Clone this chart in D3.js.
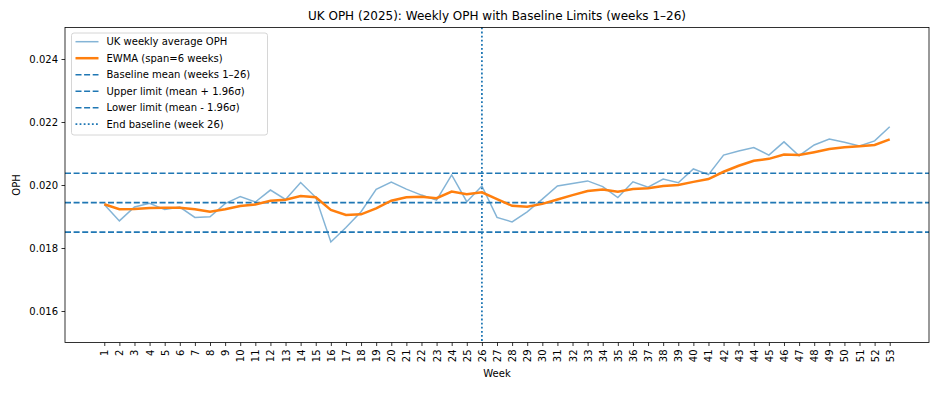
<!DOCTYPE html>
<html>
<head>
<meta charset="utf-8">
<script src="https://cdn.jsdelivr.net/npm/d3@7"></script>
<style>
  body { margin: 0; background: #fff; }
  svg { font-family: "DejaVu Sans", sans-serif; }
</style>
</head>
<body>
<div id="chart"></div>
<script>
// weekly values
var weeks = d3.range(1, 54);
var weeklyOph = [
  0.01938, 0.01886, 0.01930, 0.01942, 0.01922, 0.01930, 0.01897, 0.01899, 0.01941, 0.01963,
  0.01946, 0.01984, 0.01954, 0.02008, 0.01961, 0.01819, 0.01865, 0.01915, 0.01986, 0.02009,
  0.01987, 0.01968, 0.01952, 0.02032, 0.01947, 0.01997, 0.01897, 0.01883, 0.01915, 0.01955,
  0.01997, 0.02005, 0.02013, 0.01995, 0.01960, 0.02010, 0.01993, 0.02019, 0.02007, 0.02051,
  0.02033, 0.02095, 0.02108, 0.02119, 0.02095, 0.02137, 0.02093, 0.02127, 0.02146, 0.02136,
  0.02124, 0.02140, 0.02185
];
var ewmaOph = [
  0.01939, 0.01923, 0.01924, 0.01927, 0.01928, 0.01928, 0.01923, 0.01915, 0.01923, 0.01933,
  0.01938, 0.01950, 0.01953, 0.01965, 0.01961, 0.01921, 0.01905, 0.01907, 0.01926, 0.01950,
  0.01961, 0.01963, 0.01958, 0.01979, 0.01971, 0.01977, 0.01955, 0.01934, 0.01931, 0.01940,
  0.01954, 0.01968, 0.01981, 0.01986, 0.01979, 0.01987, 0.01990, 0.01997, 0.02000, 0.02010,
  0.02019, 0.02042, 0.02061, 0.02077, 0.02083, 0.02097, 0.02095, 0.02104, 0.02114, 0.02120,
  0.02123, 0.02127, 0.02145
];
var baselineMean = 0.01944,
    upperLimit = 0.020375,
    lowerLimit = 0.018505,
    baselineEnd = 26;
var yTicks = [0.016, 0.018, 0.020, 0.022, 0.024];
var legendLabels = [
  "UK weekly average OPH",
  "EWMA (span=6 weeks)",
  "Baseline mean (weeks 1\u201326)",
  "Upper limit (mean + 1.96\u03c3)",
  "Lower limit (mean - 1.96\u03c3)",
  "End baseline (week 26)"
];

var width = 941,
    height = 393,
    margin = {top: 27.5, right: 12, bottom: 50.5, left: 65};

var blue = "#1f77b4", orange = "#ff7f0e";

var svg = d3.select("#chart").append("svg")
    .attr("width", width)
    .attr("height", height);

var x = d3.scaleLinear()
    .domain([1 - 2.6, 53 + 2.6])
    .range([margin.left, width - margin.right]);

var y = d3.scaleLinear()
    .domain([0.015, 0.025])
    .range([height - margin.bottom, margin.top]);

var plot = svg.append("g");

// limit lines
var dashed = "6,2.6", dotted = "1.8,2.3";
[upperLimit, baselineMean, lowerLimit].forEach(function(v) {
  plot.append("line")
      .attr("x1", margin.left).attr("x2", width - margin.right)
      .attr("y1", y(v)).attr("y2", y(v))
      .attr("stroke", blue)
      .attr("stroke-width", 1.6)
      .attr("stroke-dasharray", dashed);
});

plot.append("line")
    .attr("x1", x(baselineEnd)).attr("x2", x(baselineEnd))
    .attr("y1", margin.top).attr("y2", height - margin.bottom)
    .attr("stroke", blue)
    .attr("stroke-width", 1.8)
    .attr("stroke-dasharray", dotted);

var line = d3.line()
    .x(function(d, i) { return x(weeks[i]); })
    .y(function(d) { return y(d); });

plot.append("path")
    .datum(weeklyOph)
    .attr("fill", "none")
    .attr("stroke", blue)
    .attr("stroke-opacity", 0.55)
    .attr("stroke-width", 1.5)
    .attr("d", line);

plot.append("path")
    .datum(ewmaOph)
    .attr("fill", "none")
    .attr("stroke", orange)
    .attr("stroke-width", 2.5)
    .attr("d", line);

// axes
var xAxis = svg.append("g")
    .attr("transform", "translate(0," + (height - margin.bottom) + ")")
    .call(d3.axisBottom(x).tickValues(weeks).tickSize(3.5).tickPadding(3.5).tickFormat(d3.format("d")));
xAxis.select(".domain").remove();
xAxis.selectAll("text")
    .attr("transform", "rotate(-90)")
    .attr("text-anchor", "end")
    .attr("x", -7)
    .attr("y", 0)
    .attr("dy", "0.35em");

var yAxis = svg.append("g")
    .attr("transform", "translate(" + margin.left + ",0)")
    .call(d3.axisLeft(y).tickValues(yTicks).tickSize(3.5).tickPadding(3.5).tickFormat(d3.format(".3f")));
yAxis.select(".domain").remove();

svg.selectAll(".tick text").attr("font-size", 10).attr("fill", "#000").attr("font-family", "DejaVu Sans");
svg.selectAll(".tick line").attr("stroke", "#000").attr("stroke-width", 0.8);

svg.append("rect")
    .attr("x", margin.left).attr("y", margin.top)
    .attr("width", width - margin.left - margin.right)
    .attr("height", height - margin.top - margin.bottom)
    .attr("fill", "none")
    .attr("stroke", "#000")
    .attr("stroke-width", 0.8);

// labels
svg.append("text")
    .attr("x", (margin.left + width - margin.right) / 2)
    .attr("y", 20)
    .attr("text-anchor", "middle")
    .attr("font-size", 12)
    .text("UK OPH (2025): Weekly OPH with Baseline Limits (weeks 1\u201326)");

svg.append("text")
    .attr("x", (margin.left + width - margin.right) / 2)
    .attr("y", 377)
    .attr("text-anchor", "middle")
    .attr("font-size", 10)
    .text("Week");

svg.append("text")
    .attr("transform", "translate(20," + ((margin.top + height - margin.bottom) / 2) + ") rotate(-90)")
    .attr("text-anchor", "middle")
    .attr("font-size", 10)
    .text("OPH");

// legend
var legend = svg.append("g").attr("transform", "translate(71.5,33)");
legend.append("rect")
    .attr("width", 196)
    .attr("height", 102)
    .attr("rx", 2.5)
    .attr("fill", "#fff")
    .attr("fill-opacity", 0.8)
    .attr("stroke", "#ccc")
    .attr("stroke-width", 0.8);

var legendStyles = [
  {stroke: blue, opacity: 0.55, width: 1.5, dash: null},
  {stroke: orange, opacity: 1, width: 2.5, dash: null},
  {stroke: blue, opacity: 1, width: 1.6, dash: dashed},
  {stroke: blue, opacity: 1, width: 1.6, dash: dashed},
  {stroke: blue, opacity: 1, width: 1.6, dash: dashed},
  {stroke: blue, opacity: 1, width: 1.8, dash: dotted}
];

var item = legend.selectAll(".item")
    .data(legendLabels)
  .enter().append("g")
    .attr("transform", function(d, i) { return "translate(0," + (8.7 + i * 16.5) + ")"; });

item.append("line")
    .attr("x1", 4).attr("x2", 27)
    .attr("stroke", function(d, i) { return legendStyles[i].stroke; })
    .attr("stroke-opacity", function(d, i) { return legendStyles[i].opacity; })
    .attr("stroke-width", function(d, i) { return legendStyles[i].width; })
    .attr("stroke-dasharray", function(d, i) { return legendStyles[i].dash; });

item.append("text")
    .attr("x", 35)
    .attr("dy", "0.35em")
    .attr("font-size", 10)
    .text(function(d) { return d; });
</script>
</body>
</html>
